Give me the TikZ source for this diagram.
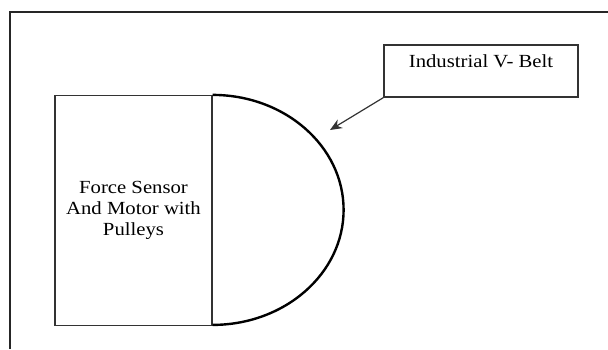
\documentclass[tikz,border=0pt]{standalone}
\usepackage{fontspec}
\setmainfont{Liberation Serif}[FakeStretch=1.12]
\usetikzlibrary{arrows.meta}

\begin{document}
\begin{tikzpicture}[x=1pt,y=-1pt,>={Stealth[length=12pt,width=10pt]},
		box/.style={rectangle,draw=black!80,line width=1.2pt,inner sep=4pt,align=center,font=\fontsize{18.5}{21}\selectfont},
		belt/.style={draw=black,line width=2.4pt}]
		\useasboundingbox (0,0) rectangle (608,349);
		\draw[black!85,line width=1.2pt] (10,349) |- (608,12);
		
		\node[box,minimum width=157pt,minimum height=230pt] (motor) at (133.5,210.5) {Force Sensor\\And Motor with\\Pulleys};
		\node[box,minimum width=194pt,text height=18pt,text depth=26pt] (vbelt) at (481,71) {Industrial V- Belt};
		\coordinate (tip) at (330,130);
		
		\draw[belt] (motor.north east) arc[start angle=-90,end angle=90,x radius=131,y radius=115];
		\draw[->,black!80,line width=1.2pt] (vbelt.south west) -- (tip);
\end{tikzpicture}
\end{document}
